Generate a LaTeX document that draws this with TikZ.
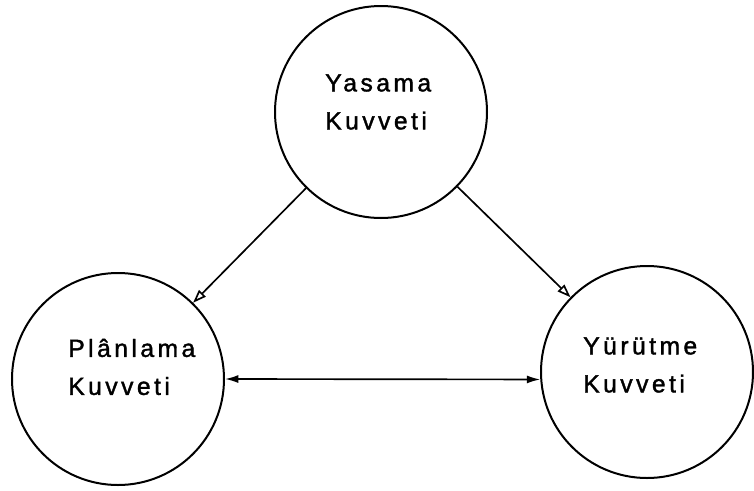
\documentclass[tikz,border=0pt]{standalone}
\usepackage{fontspec}
\setmainfont[LetterSpace=14,FakeBold=1.5]{Liberation Sans}
\usetikzlibrary{arrows.meta,positioning}

\begin{document}
\begin{tikzpicture}[x=0.75pt,y=-0.75pt,
    kuvvet/.style={draw,circle,line width=1.5pt,minimum size=159pt,inner sep=0pt},
    yazi/.style={anchor=west,align=left,inner sep=0pt,font=\fontsize{18.5}{28.5}\selectfont},
    ok/.style={line width=1.25pt}]
  \useasboundingbox (0,0) rectangle (754,490);

  % the three powers
  \node[kuvvet] (yasama) at (381,112) {};
  \node[kuvvet] (planlama) at (118,379) {};
  \node[kuvvet] (yurutme) at (647,372) {};

  \node[yazi] (yasamaT) at (325,102) {Yasama\\Kuvveti};
  \node[yazi] (planlamaT) at (68,367) {Plânlama\\Kuvveti};
  \node[yazi] (yurutmeT) at (583,365) {Yürütme\\Kuvveti};

  % connections
  \draw[ok,-{Triangle[open,length=10pt,width=7pt]}] (yasama) -- (planlama);
  \draw[ok,-{Triangle[open,length=10pt,width=7pt]}] (yasama) -- (yurutme);
  \draw[ok,{Latex[length=10pt,width=6pt]}-{Latex[length=10pt,width=6pt]}] (planlama.0) -- (yurutme.184);
\end{tikzpicture}
\end{document}
